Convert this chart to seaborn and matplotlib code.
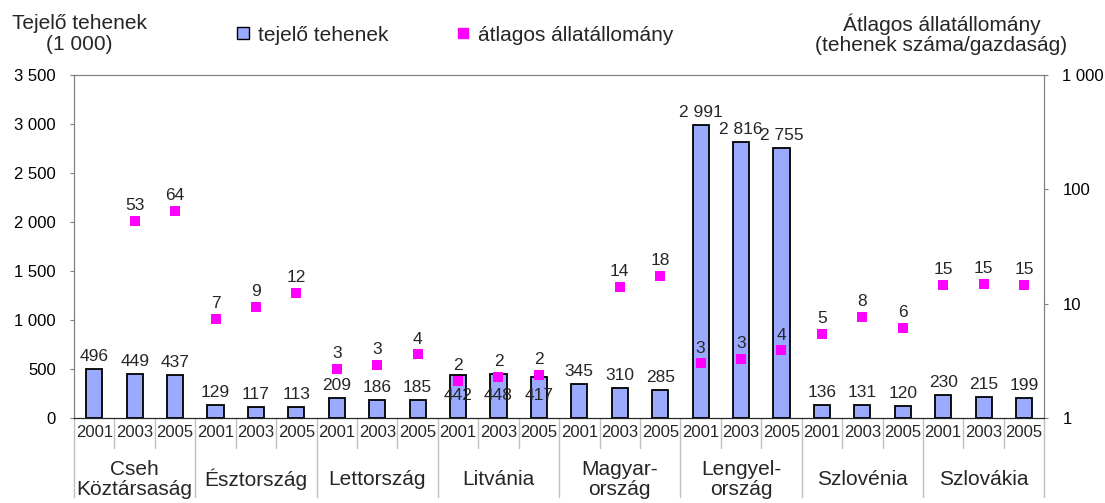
import numpy as np
import pandas as pd
import matplotlib.pyplot as plt
import matplotlib.transforms as mtransforms
import seaborn as sns

countries = ["Cseh\nKöztársaság", "Észtország", "Lettország", "Litvánia",
             "Magyar-\nország", "Lengyel-\nország", "Szlovénia", "Szlovákia"]
years = ["2001", "2003", "2005"]

# dairy cows (1 000)
cows = [496, 449, 437, 129, 117, 113, 209, 186, 185, 442, 448, 417,
        345, 310, 285, 2991, 2816, 2755, 136, 131, 120, 230, 215, 199]
# average herd size (cows / farm), log scale
herd = [np.nan, 52.8, 64.4, 7.3, 9.4, 12.4, 2.7, 2.9, 3.6, 2.1, 2.3, 2.4,
        np.nan, 14.0, 17.6, 3.0, 3.3, 3.9, 5.4, 7.6, 6.1, 14.6, 14.9, 14.6]

BAR = "#99aaff"
MAG = "#ff00ff"
GREY = "#808080"

sns.set_style("white")
plt.rcParams["font.family"] = ["Liberation Sans", "DejaVu Sans"]

df = pd.DataFrame({
    "cat": [f"{c}|{y}" for c in countries for y in years],
    "cows": cows,
    "herd": herd,
})
df["pos"] = np.arange(len(df))

fig = plt.figure(figsize=(11.05, 5.03), dpi=100)
ax = fig.add_axes([0.067, 0.169, 0.878, 0.682])

sns.barplot(data=df, x="cat", y="cows", color=BAR, width=0.4,
            edgecolor="black", linewidth=1.3, saturation=1, ax=ax)
ax.set_xlim(-0.5, len(df) - 0.5)
ax.set_ylim(0, 3500)
ax.set_yticks(np.arange(0, 3501, 500))
ax.set_yticklabels([f"{v:,}".replace(",", " ") for v in range(0, 3501, 500)], fontsize=12)
ax.set_xticks([])
ax.set_xlabel("")
ax.set_ylabel("")
ax.tick_params(axis="y", left=True, length=3, width=0.8, color=GREY, labelcolor="black", pad=10)
for s in ["left", "top", "right"]:
    ax.spines[s].set_color(GREY)
ax.spines["bottom"].set_color("black")

# bar labels
for i, v in enumerate(cows):
    lbl = f"{v:,}".replace(",", " ")
    if 9 <= i <= 11:
        ax.annotate(lbl, (i, 0), xytext=(0, 16), textcoords="offset points",
                    ha="center", va="center", fontsize=12.5)
    else:
        ax.annotate(lbl, (i, v), xytext=(0, 9), textcoords="offset points",
                    ha="center", va="center", fontsize=12.5)

ax2 = ax.twinx()
ax2.set_yscale("log")
ax2.set_ylim(1, 1000)
sns.scatterplot(data=df, x="pos", y="herd", marker="s", color=MAG, s=45,
                linewidth=0, ax=ax2, zorder=5)
ax2.set_xlim(-0.5, len(df) - 0.5)
ax2.set_yticks([1, 10, 100, 1000])
ax2.set_yticklabels(["1", "10", "100", "1 000"], fontsize=12)
ax2.minorticks_off()
ax2.tick_params(axis="y", right=True, length=3, width=0.8, color=GREY, labelcolor="black", pad=10)
ax2.set_ylabel("")
ax2.set_xlabel("")
for s in ["left", "top", "right"]:
    ax2.spines[s].set_color(GREY)
for i, v in enumerate(herd):
    if not np.isnan(v):
        ax2.annotate(f"{round(v)}", (i, v), xytext=(0, 11), textcoords="offset points",
                     ha="center", va="center", fontsize=12.5)

# two-level category axis
trans = mtransforms.blended_transform_factory(ax.transData, ax.transAxes)
for i in range(len(df)):
    ax.text(i, -0.043, years[i % 3], transform=trans, ha="center", va="center", fontsize=12)
for b in range(len(df) + 1):
    x = b - 0.5
    low = -0.23 if b % 3 == 0 else -0.088
    ax.plot([x, x], [0, low], transform=trans, color="#c0c0c0", lw=1, clip_on=False)
for k, c in enumerate(countries):
    ax.text(3 * k + 1, -0.18, c, transform=trans, ha="center", va="center",
            fontsize=15, linespacing=1.05)

# titles and legend
fig.text(0.0715, 0.932, "Tejelő tehenek\n(1 000)", ha="center", va="center", fontsize=15,
         linespacing=1.1)
fig.text(0.852, 0.932, "Átlagos állatállomány\n(tehenek száma/gazdaság)", ha="center",
         va="center", fontsize=15, linespacing=1.1)
handles = [
    plt.Line2D([], [], marker="s", ls="", markerfacecolor=BAR, markeredgecolor="black",
               markersize=8, label="tejelő tehenek"),
    plt.Line2D([], [], marker="s", ls="", markerfacecolor=MAG, markeredgecolor=MAG,
               markersize=7, label="átlagos állatállomány"),
]
fig.legend(handles=handles, loc="center", bbox_to_anchor=(0.411, 0.93), ncol=2,
           frameon=False, fontsize=15, handletextpad=0.3, columnspacing=3.2,
           handlelength=0.8)

fig.savefig("out.png", dpi=100)
